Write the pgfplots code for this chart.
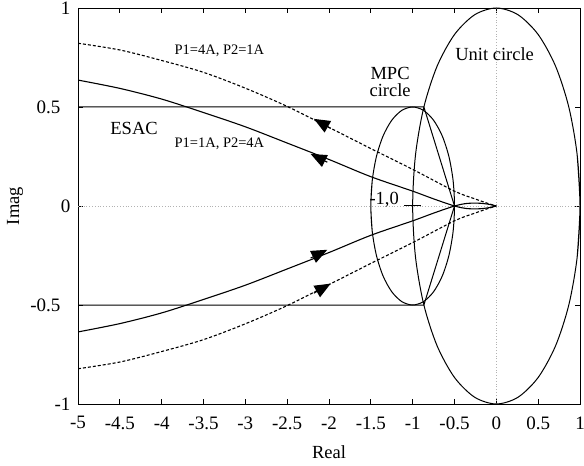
\documentclass[border=0pt]{standalone}
\usepackage{fontspec}
\setmainfont{Liberation Serif}
\usepackage{pgfplots}
\pgfplotsset{compat=1.18}
\usetikzlibrary{arrows.meta}

\begin{document}
\begin{tikzpicture}
\begin{axis}[name=ax, scale only axis, width=502pt, height=396pt,
  xmin=-5, xmax=1, ymin=-1, ymax=1,
  xtick={-5,-4.5,-4,-3.5,-3,-2.5,-2,-1.5,-1,-0.5,0,0.5,1},
  xticklabels={-5,-4.5,-4,-3.5,-3,-2.5,-2,-1.5,-1,-0.5,0,0.5,1},
  ytick={-1,-0.5,0,0.5,1},
  yticklabels={-1,-0.5\hspace*{10pt},0,0.5\hspace*{10pt},1},
  tick align=inside, major tick length=5pt,
  tick style={black, line width=0.8pt},
  axis line style={line width=0.9pt},
  ticklabel style={font=\fontsize{19}{19}\selectfont},
  xticklabel style={yshift=-9pt},
  yticklabel style={xshift=-4pt},
  xlabel={Real}, ylabel={Imag},
  label style={font=\fontsize{18.5}{18.5}\selectfont},
  xlabel style={at={(axis description cs:0.5,-0.121)}, anchor=center},
  ylabel style={at={(axis description cs:-0.1255,0.5)}, anchor=center},
]
% zero lines
\addplot[gray!60, dotted, line width=0.8pt] coordinates {(-5,0) (1,0)};
\addplot[gray!60, dotted, line width=0.8pt] coordinates {(0,-1) (0,1)};

% unit circle
\addplot[black, line width=1pt, smooth] coordinates {
(0.9659,-0.2588) (1,0) (0.9659,0.2588) (0.8660,0.5) (0.7071,0.7071) (0.5,0.8660) (0.2588,0.9659)
(0,1) (-0.2588,0.9659) (-0.5,0.8660) (-0.7071,0.7071) (-0.8660,0.5) (-0.9659,0.2588)
(-1,0) (-0.9659,-0.2588) (-0.8660,-0.5) (-0.7071,-0.7071) (-0.5,-0.8660) (-0.2588,-0.9659)
(0,-1) (0.2588,-0.9659) (0.5,-0.8660) (0.7071,-0.7071) (0.8660,-0.5) (0.9659,-0.2588) (1,0) (0.9659,0.2588)};

% MPC circle (centre -1, radius 0.5)
\addplot[black, line width=1pt, smooth] coordinates {
(-1.4830,-0.1294) (-1.5,0) (-1.4830,0.1294) (-1.4330,0.25) (-1.3536,0.3536) (-1.25,0.4330) (-1.1294,0.4830)
(-1,0.5) (-0.8706,0.4830) (-0.75,0.4330) (-0.6464,0.3536) (-0.5670,0.25) (-0.5170,0.1294)
(-0.5,0) (-0.5170,-0.1294) (-0.5670,-0.25) (-0.6464,-0.3536) (-0.75,-0.4330) (-0.8706,-0.4830)
(-1,-0.5) (-1.1294,-0.4830) (-1.25,-0.4330) (-1.3536,-0.3536) (-1.4330,-0.25) (-1.4830,-0.1294) (-1.5,0) (-1.4830,0.1294)};

% ESAC boundary
\addplot[black, line width=1pt] coordinates {(-5,0.5) (-0.866,0.5) (-0.5,0) (-0.866,-0.5) (-5,-0.5)};

% critical point marker
\addplot[black, line width=1pt] coordinates {(-1.1,0) (-0.9,0)};

% P1=1A, P2=4A (solid)
\addplot[black, line width=1.1pt, smooth] coordinates {
(-5,0.636) (-4.5,0.594) (-4,0.540) (-3.5,0.472) (-3,0.400) (-2.5,0.318) (-2,0.235)
(-1.5,0.148) (-1,0.075) (-0.75,0.036) (-0.5,0) (-0.35,-0.013) (-0.2,-0.014) (-0.08,-0.008) (0,0)};
\addplot[black, line width=1.1pt, smooth] coordinates {
(-5,-0.636) (-4.5,-0.594) (-4,-0.540) (-3.5,-0.472) (-3,-0.400) (-2.5,-0.318) (-2,-0.235)
(-1.5,-0.148) (-1,-0.075) (-0.75,-0.036) (-0.5,0) (-0.35,0.013) (-0.2,0.014) (-0.08,0.008) (0,0)};

% P1=4A, P2=1A (dashed)
\addplot[black, line width=1.1pt, smooth, dash pattern=on 3pt off 2pt] coordinates {
(-5,0.822) (-4.5,0.788) (-4,0.735) (-3.5,0.675) (-3,0.595) (-2.5,0.503) (-2,0.397)
(-1.5,0.290) (-1,0.185) (-0.5,0.075) (-0.25,0.035) (-0.1,0.013) (0,0)};
\addplot[black, line width=1.1pt, smooth, dash pattern=on 3pt off 2pt] coordinates {
(-5,-0.822) (-4.5,-0.788) (-4,-0.735) (-3.5,-0.675) (-3,-0.595) (-2.5,-0.503) (-2,-0.397)
(-1.5,-0.290) (-1,-0.185) (-0.5,-0.075) (-0.25,-0.035) (-0.1,-0.013) (0,0)};

% arrows
\addplot[black, line width=1.1pt, -{Triangle[length=16pt,width=13pt]}] coordinates {(-2.02,0.221) (-2.22,0.263)};
\addplot[black, line width=1.1pt, -{Triangle[length=16pt,width=13pt]}] coordinates {(-1.98,0.392) (-2.18,0.440)};
\addplot[black, line width=1.1pt, -{Triangle[length=16pt,width=13pt]}] coordinates {(-2.22,-0.263) (-2.02,-0.221)};
\addplot[black, line width=1.1pt, -{Triangle[length=16pt,width=13pt]}] coordinates {(-2.18,-0.440) (-1.98,-0.392)};

% texts
\node[font=\fontsize{14.5}{14.5}\selectfont] at (axis cs:-3.31,0.783) {P1=4A, P2=1A};
\node[font=\fontsize{14.5}{14.5}\selectfont] at (axis cs:-3.31,0.313) {P1=1A, P2=4A};
\node[font=\fontsize{18.5}{18.5}\selectfont] at (axis cs:-4.33,0.392) {ESAC};
\node[font=\fontsize{18.5}{17}\selectfont, align=center] at (axis cs:-1.27,0.624) {MPC\\circle};
\node[font=\fontsize{18.5}{18.5}\selectfont] at (axis cs:-0.02,0.768) {Unit circle};
\node[font=\fontsize{18.5}{18.5}\selectfont, anchor=base east, inner sep=0pt] at (axis cs:-1.163,0.01) {-1,0};
\end{axis}
\pgfresetboundingbox
\path ([shift={(-78pt,-61pt)}]ax.south west) rectangle ([shift={(4pt,8pt)}]ax.north east);
\end{tikzpicture}
\end{document}
